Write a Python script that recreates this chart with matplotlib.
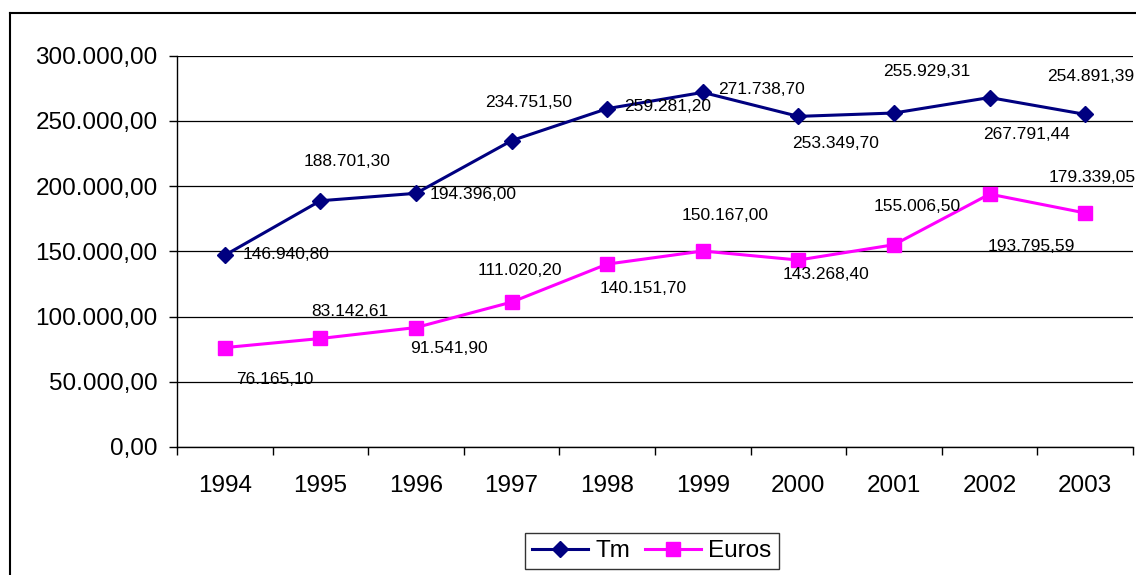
import matplotlib
matplotlib.use("Agg")
import matplotlib.pyplot as plt
from matplotlib.lines import Line2D
from matplotlib.ticker import FuncFormatter, FixedLocator

plt.rcParams['font.family'] = ['Liberation Sans', 'DejaVu Sans']

years = ['1994', '1995', '1996', '1997', '1998', '1999', '2000', '2001', '2002', '2003']
tm = [146940.80, 188701.30, 194396.00, 234751.50, 259281.20,
      271738.70, 253349.70, 255929.31, 267791.44, 254891.39]
euros = [76165.10, 83142.61, 91541.90, 111020.20, 140151.70,
         150167.00, 143268.40, 155006.50, 193795.59, 179339.05]

# label offsets (pixels) relative to markers, as placed in the original
tm_off = [(61, 1), (27, 39), (57, -1), (17, 38), (60, 2),
          (59, 3), (37, -27), (33, 42), (37, -37), (5, 38)]
eu_off = [(50, -32), (29, 27), (33, -21), (8, 32), (36, -24),
          (22, 36), (28, -14), (23, 38), (42, -52), (7, 35)]


def fmt_es(v, pos=None):
    s = f"{v:,.2f}"
    return s.replace(",", "X").replace(".", ",").replace("X", ".")


W, H = 1136, 575
fig = plt.figure(figsize=(W / 100, H / 100), dpi=100)
ax = fig.add_axes([177 / W, 1 - 447 / H, (1133 - 177) / W, (447 - 55.5) / H])

x = list(range(len(years)))
ax.plot(x, tm, color='#000080', lw=2.2, marker='D', ms=8.5, label='Tm', zorder=3)
ax.plot(x, euros, color='#FF00FF', lw=2.2, marker='s', ms=9.5, label='Euros', zorder=3)

for i, v in enumerate(tm):
    ax.annotate(fmt_es(v), (i, v), xytext=tm_off[i], textcoords='offset pixels',
                ha='center', va='center', fontsize=12.5, zorder=4)
for i, v in enumerate(euros):
    ax.annotate(fmt_es(v), (i, v), xytext=eu_off[i], textcoords='offset pixels',
                ha='center', va='center', fontsize=12.5, zorder=4)

ax.set_xlim(-0.5, len(years) - 0.5)
ax.set_ylim(0, 300000)
ax.set_yticks(range(0, 300001, 50000))
ax.yaxis.set_major_formatter(FuncFormatter(fmt_es))
ax.yaxis.grid(True, color='black', lw=0.9)
ax.set_axisbelow(True)

ax.set_xticks(x)
ax.set_xticklabels(years)
ax.xaxis.set_minor_locator(FixedLocator([i - 0.5 for i in range(len(years) + 1)]))
ax.tick_params(axis='x', which='major', length=0, pad=20, labelsize=17.5)
ax.tick_params(axis='x', which='minor', length=6, width=1, direction='out')
ax.tick_params(axis='y', which='major', length=6, width=1, direction='out', pad=8, labelsize=17.5)

for s in ['top', 'right']:
    ax.spines[s].set_visible(False)
for s in ['left', 'bottom']:
    ax.spines[s].set_color('black')
    ax.spines[s].set_linewidth(1)

leg = fig.legend(loc='center', bbox_to_anchor=(652 / W, 1 - 551 / H), ncol=2,
                 fontsize=17.5, frameon=True, fancybox=False, handlelength=2.3,
                 columnspacing=0.6, handletextpad=0.3, borderpad=0.3)
leg.get_frame().set_edgecolor('black')
leg.get_frame().set_linewidth(1)

# outer chart border (left and top visible)
fig.add_artist(Line2D([10 / W, 10 / W], [0, 1 - 13 / H], transform=fig.transFigure, color='black', lw=1.5))
fig.add_artist(Line2D([10 / W, 1], [1 - 13 / H, 1 - 13 / H], transform=fig.transFigure, color='black', lw=1.5))

fig.savefig('out.png', dpi=100)
